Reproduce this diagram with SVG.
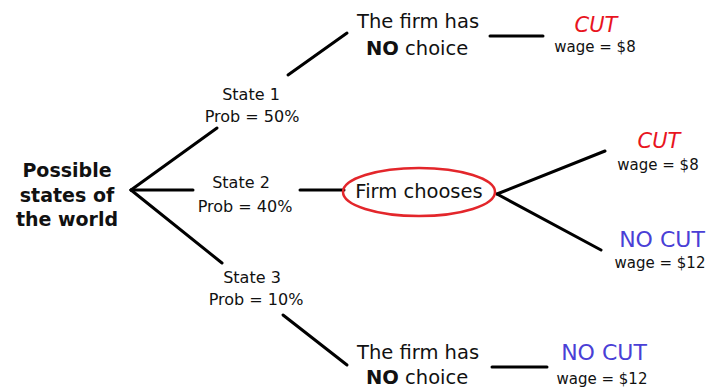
<svg xmlns="http://www.w3.org/2000/svg" width="706" height="390" viewBox="0 0 706 390">
<style>
text{font-family:"DejaVu Sans","Liberation Sans",sans-serif;fill:#111}
.root{font-size:19px;font-weight:bold;text-anchor:middle}
.st{font-size:16px;text-anchor:middle}
.fm{font-size:19.5px}
.b{font-weight:bold}
.cut{font-size:21px;fill:#e8141e;text-anchor:middle;font-style:italic}
.nocut{font-size:22px;fill:#4a3fd6;text-anchor:middle}
.wage{font-size:15px;text-anchor:middle}
.ln{stroke:#000;stroke-width:3;fill:none;stroke-linecap:round}
</style>
<rect width="706" height="390" fill="#fff"/>
<g id="connectors">
<line class="ln" x1="131" y1="190" x2="217" y2="128"/>
<line class="ln" x1="131" y1="190" x2="193" y2="190"/>
<line class="ln" x1="131" y1="190" x2="222" y2="263"/>
<line class="ln" x1="288" y1="75" x2="347" y2="33"/>
<line class="ln" x1="300" y1="190" x2="344" y2="190"/>
<line class="ln" x1="283" y1="315" x2="347" y2="365"/>
<line class="ln" x1="490" y1="36" x2="543" y2="36"/>
<line class="ln" x1="492" y1="367" x2="547" y2="367"/>
<line class="ln" x1="497" y1="194" x2="605" y2="151"/>
<line class="ln" x1="497" y1="194" x2="601" y2="250"/>
</g>
<g id="root">
<text class="root" x="67" y="177">Possible</text>
<text class="root" x="67" y="202">states of</text>
<text class="root" x="67" y="226">the world</text>
</g>
<g id="state1">
<text class="st" x="251" y="100">State 1</text>
<text class="st" x="252" y="122">Prob = 50%</text>
</g>
<g id="state2">
<text class="st" x="241" y="188">State 2</text>
<text class="st" x="245" y="212">Prob = 40%</text>
</g>
<g id="state3">
<text class="st" x="252" y="283">State 3</text>
<text class="st" x="256" y="305">Prob = 10%</text>
</g>
<g id="nochoice1">
<text class="fm" x="357" y="28">The firm has</text>
<text class="fm" x="366" y="55"><tspan class="b">NO</tspan> choice</text>
</g>
<g id="nochoice3">
<text class="fm" x="357" y="359">The firm has</text>
<text class="fm" x="366" y="384"><tspan class="b">NO</tspan> choice</text>
</g>
<g id="firmchooses">
<ellipse cx="419" cy="192" rx="76" ry="24" fill="none" stroke="#e3262b" stroke-width="2.5"/>
<text class="fm" x="419" y="198" text-anchor="middle">Firm chooses</text>
</g>
<g id="cut1">
<text class="cut" x="596" y="32">CUT</text>
<text class="wage" x="595" y="52">wage = $8</text>
</g>
<g id="cut2">
<text class="cut" x="659" y="148">CUT</text>
<text class="wage" x="658" y="170">wage = $8</text>
</g>
<g id="nocut2">
<text class="nocut" x="662" y="247">NO CUT</text>
<text class="wage" x="660" y="268">wage = $12</text>
</g>
<g id="nocut3">
<text class="nocut" x="604" y="360">NO CUT</text>
<text class="wage" x="602" y="384">wage = $12</text>
</g>
</svg>
